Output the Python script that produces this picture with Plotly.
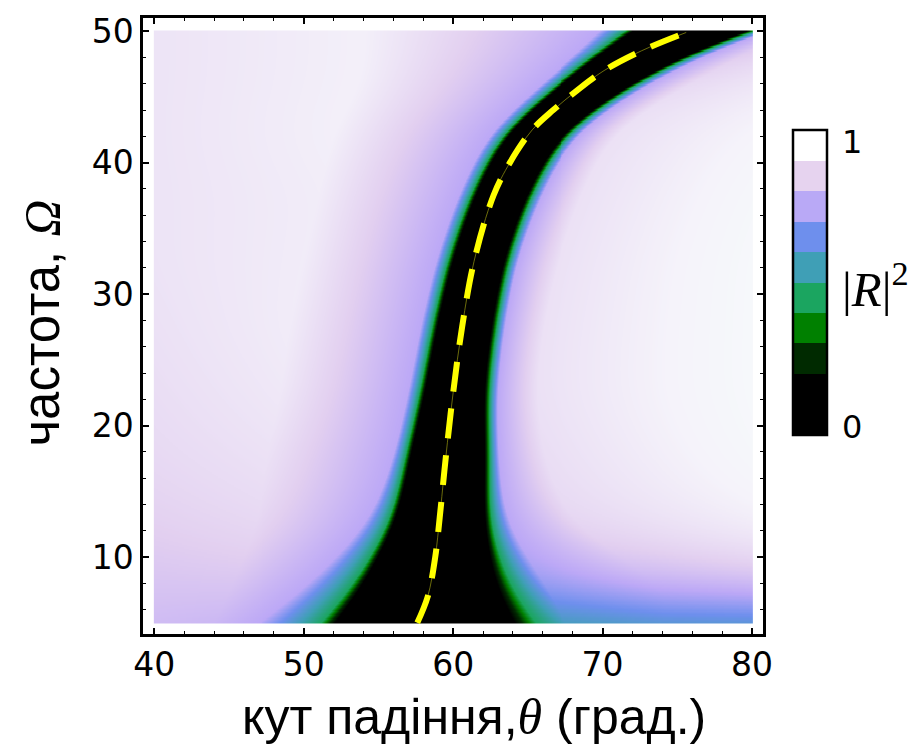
import numpy as np
import plotly.graph_objects as go

# ---------------- data ----------------
# Reflectance |R|^2 map: per-frequency row, theta positions of characteristic levels
omega_rows = [5, 6, 7.5, 10, 13, 17.5, 22.5, 27.5, 32.5, 37.5, 42.5, 44.5, 46.5, 48, 49.2, 50]

far_left_z = [0.81, 0.81, 0.82, 0.83, 0.85, 0.87, 0.88, 0.89, 0.90, 0.90, 0.90, 0.90, 0.90, 0.90, 0.90, 0.90]
pale_left = [44, 44.5, 45, 46, 47, 47.5, 48.5, 49, 50, 51, 52, 53, 54, 54, 54, 54]
pale_left_z = [0.79, 0.80, 0.82, 0.85, 0.88, 0.90, 0.92, 0.93, 0.93, 0.93, 0.94, 0.94, 0.94, 0.94, 0.94, 0.94]
lav_left = [47.1, 48.3, 50.0, 52.3, 54.6, 56.0, 57.0, 57.8, 58.8, 60.3, 62.4, 64.5, 66.4, 68.0, 69.1, 69.8]
green_left = [51.2, 52.0, 53.1, 54.5, 55.9, 56.75, 57.75, 58.55, 59.55, 61.05, 63.25, 65.45, 67.4, 69.1, 70.45, 71.5]
black_left = [52.1, 52.8, 53.8, 55.0, 56.3, 57.1, 58.1, 58.9, 59.9, 61.4, 63.6, 65.8, 67.8, 69.5, 70.9, 72.0]
black_right = [64.1, 63.5, 62.9, 62.4, 62.0, 62.1, 62.0, 62.5, 63.3, 64.8, 67.2, 69.9, 72.5, 74.9, 77.2, 79.6]
green_right = [65.5, 64.7, 63.9, 63.0, 62.4, 62.45, 62.35, 62.85, 63.65, 65.15, 67.55, 70.25, 72.9, 75.3, 77.65, 80.1]
lav_right = [67.5, 67.0, 66.5, 64.8, 63.4, 63.0, 62.9, 63.4, 64.2, 65.8, 68.2, 71.0, 73.7, 76.2, 78.6, 81.0]
lav_right_z = [0.57, 0.62, 0.72, 0.75, 0.75, 0.75, 0.75, 0.75, 0.75, 0.75, 0.75, 0.75, 0.75, 0.75, 0.75, 0.75]
pale_right = [74, 75, 75, 71, 67.5, 66, 65.5, 66, 67, 68.5, 70.7, 73.5, 76.5, 79.2, 81.5, 82.0]
pale_right_z = [0.61, 0.66, 0.78, 0.84, 0.88, 0.89, 0.90, 0.90, 0.90, 0.90, 0.90, 0.90, 0.88, 0.85, 0.85, 0.80]
far_right_z = [0.62, 0.68, 0.80, 0.90, 0.96, 0.99, 1.0, 1.0, 1.0, 0.99, 0.97, 0.95, 0.93, 0.90, 0.88, 0.85]

level_black = 0.15
level_green = 0.45
level_lav = 0.75

# dashed yellow curve (zero of reflection)
line_omega = [5.0, 7, 10, 13, 17.5, 22.5, 27.5, 32.5, 37.5, 40, 42.5, 44, 45.5, 47, 48.5, 49.9]
line_theta = [57.6, 58.3, 58.8, 59.1, 59.5, 60.0, 60.6, 61.4, 62.7, 63.8, 65.3, 66.7, 68.3, 70.1, 72.6, 75.6]

# legend colours (10 bands, 0..1)
band_colors = ["#000000", "#000000", "#002a00", "#008000", "#1ba560",
               "#3f9fb6", "#6e8fed", "#b9a9f6", "#e6d3ef", "#ffffff"]

x_ticks = [40, 50, 60, 70, 80]
y_ticks = [10, 20, 30, 40, 50]

# ---------------- build the map table ----------------
theta_grid = np.linspace(40, 80, 601)
omega_grid = np.linspace(5, 50, 451)
orow = np.array(omega_rows, float)
SIG = 1.7  # smoothing of the row table along omega (in omega units)
step = omega_grid[1] - omega_grid[0]
half = int(4 * SIG / step)
kern = np.exp(-0.5 * ((np.arange(-half, half + 1) * step) / SIG) ** 2)
kern /= kern.sum()


def smooth_row(arr):
    v = np.interp(omega_grid, orow, np.array(arr, float))
    left = 2 * v[0] - v[1:half + 1][::-1]
    right = 2 * v[-1] - v[-half - 1:-1][::-1]
    vv = np.concatenate([left, v, right])
    return np.convolve(vv, kern, mode="valid")


cols_x = [None, pale_left, lav_left, green_left, black_left,
          black_right, green_right, lav_right, pale_right, None]
cols_z = [far_left_z, pale_left_z, None, None, None, None, None,
          lav_right_z, pale_right_z, far_right_z]
fixed_z = [None, None, level_lav, level_green, level_black, level_black, level_green,
           None, None, None]
fixed_x = [37.0, None, None, None, None, None, None, None, None, 83.0]

KX = [np.full(omega_grid.size, fixed_x[k]) if cols_x[k] is None else smooth_row(cols_x[k])
      for k in range(10)]
KZ = [np.full(omega_grid.size, fixed_z[k]) if cols_z[k] is None else smooth_row(cols_z[k])
      for k in range(10)]

Z = np.empty((omega_grid.size, theta_grid.size))
for i in range(omega_grid.size):
    xp = np.array([KX[k][i] for k in range(10)])
    xp = np.maximum.accumulate(xp + np.arange(10) * 1e-4)
    fp = [KZ[k][i] for k in range(10)]
    Z[i] = np.interp(theta_grid, xp, fp)
Z = np.round(np.clip(Z, 0, 1), 3)

cont_scale = [[0.0, "#000000"], [0.15, "#000000"], [0.25, "#002a00"], [0.35, "#008000"],
              [0.45, "#1ba560"], [0.55, "#3f9fb6"], [0.65, "#6e8fed"], [0.75, "#bca8f6"],
              [0.85, "#e2cff0"], [0.95, "#f5f3fa"], [1.0, "#f6fbfb"]]

step_scale = []
for k, c in enumerate(band_colors):
    step_scale.append([k / 10, c])
    step_scale.append([(k + 1) / 10, c])

fig = go.Figure()
fig.add_trace(go.Heatmap(x=theta_grid, y=omega_grid, z=Z, colorscale=cont_scale,
                         zmin=0, zmax=1, showscale=False, hoverinfo="skip"))
# legend-only trace (outside the visible range)
fig.add_trace(go.Heatmap(x=[200, 201], y=[200, 201], z=[[0, 1], [0, 1]],
                         colorscale=step_scale, zmin=0, zmax=1, showscale=True,
                         hoverinfo="skip",
                         colorbar=dict(x=1.048, xanchor="left", y=0.5708, yanchor="middle",
                                       len=305, lenmode="pixels", thickness=34,
                                       thicknessmode="pixels", outlinecolor="black",
                                       outlinewidth=2.5, showticklabels=False, ticks="",
                                       xpad=0, ypad=0, borderwidth=0)))
fig.add_trace(go.Scatter(x=line_theta, y=line_omega, mode="lines", hoverinfo="skip",
                         line=dict(color="#9a9a10", width=0.7, shape="spline"),
                         showlegend=False))
fig.add_trace(go.Scatter(x=line_theta, y=line_omega, mode="lines", hoverinfo="skip",
                         line=dict(color="#ffff00", width=6, dash="30px,17px", shape="spline"),
                         showlegend=False))

axis_common = dict(showline=True, linecolor="black", linewidth=2.5, mirror="ticks",
                   ticks="inside", ticklen=6, tickwidth=1.5, tickcolor="black",
                   showgrid=False, zeroline=False,
                   minor=dict(dtick=2, ticks="inside", ticklen=3.5, tickwidth=1.2,
                              tickcolor="black", showgrid=False),
                   tickfont=dict(family="DejaVu Sans", size=33, color="black"))

fig.update_layout(
    width=916, height=747,
    margin=dict(l=143, r=153, t=13, b=113),
    paper_bgcolor="white", plot_bgcolor="white",
    showlegend=False,
    xaxis=dict(range=[39.24, 80.74], tickvals=x_ticks, **axis_common),
    yaxis=dict(range=[4.15, 51.0], tickvals=y_ticks, **axis_common),
    annotations=[
        dict(text='кут падіння,<span style="font-family:Liberation Serif"><i>θ</i></span> (град.)',
             x=0.534, y=-0.1345, xref="paper", yref="paper", xanchor="center",
             yanchor="middle", showarrow=False,
             font=dict(family="Liberation Sans", size=50, color="black")),
        dict(text='частота, <span style="font-family:Liberation Serif"><i>Ω</i></span>',
             x=-0.163, y=0.5056, xref="paper", yref="paper", xanchor="center",
             yanchor="middle", showarrow=False, textangle=-90,
             font=dict(family="Liberation Sans", size=51, color="black")),
        dict(text="1", x=1.124, y=0.7987, xref="paper", yref="paper", xanchor="left",
             yanchor="middle", showarrow=False,
             font=dict(family="DejaVu Sans", size=32, color="black")),
        dict(text="0", x=1.124, y=0.3366, xref="paper", yref="paper", xanchor="left",
             yanchor="middle", showarrow=False,
             font=dict(family="DejaVu Sans", size=32, color="black")),
        dict(text="|<i>R</i>|<sup>2</sup>", x=1.124, y=0.565, xref="paper", yref="paper",
             xanchor="left", yanchor="middle", showarrow=False,
             font=dict(family="Liberation Serif", size=49, color="black")),
    ],
)

fig.write_html("out.html")
